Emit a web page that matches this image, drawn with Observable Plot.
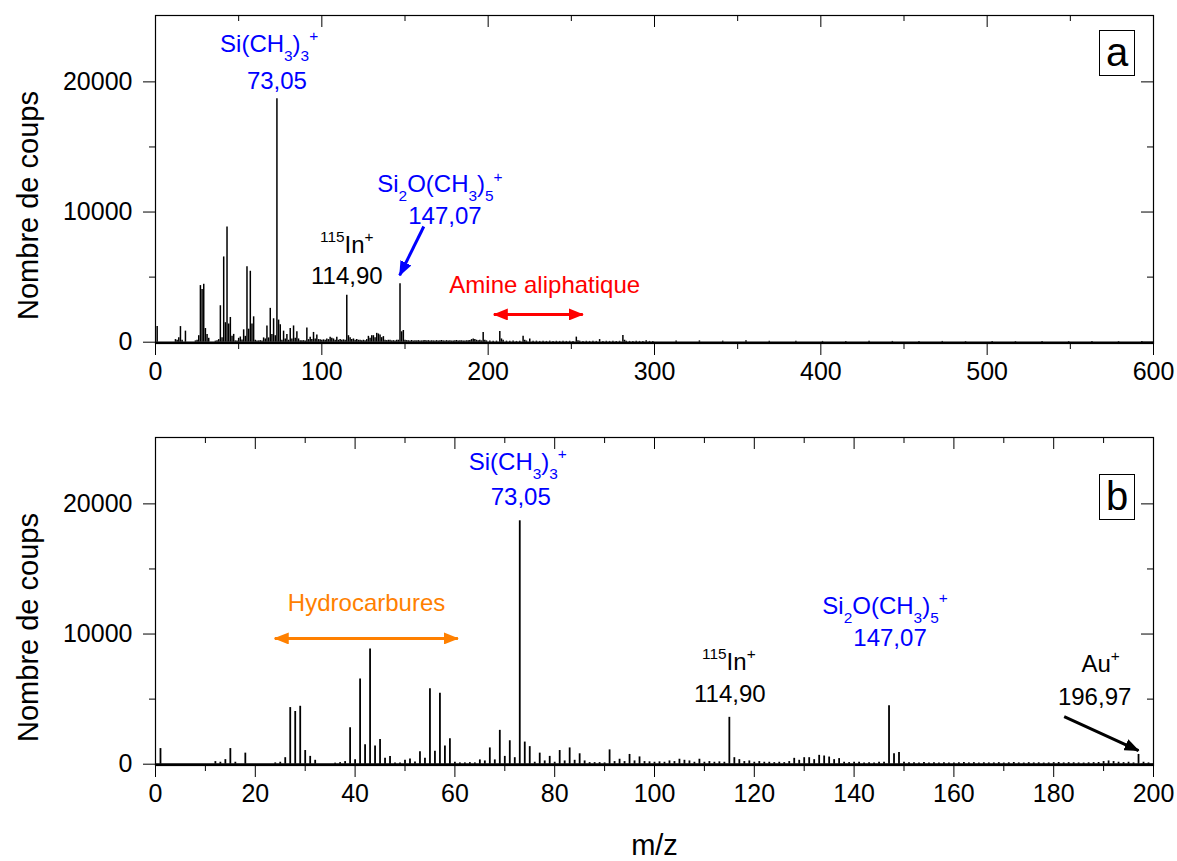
<!DOCTYPE html>
<html><head><meta charset="utf-8">
<script src="https://cdn.jsdelivr.net/npm/d3@7"></script>
<script src="https://cdn.jsdelivr.net/npm/@observablehq/plot@0.6"></script>
<style>
body{margin:0;background:#fff;}
#wrap{position:relative;width:1177px;height:861px;font-family:"Liberation Sans",Arial,sans-serif;overflow:hidden;}
.panel{position:absolute;left:0;}
.tag{position:absolute;box-sizing:border-box;border:1.3px solid #000;background:#fff;font-size:40px;text-align:center;color:#000;}
</style></head><body><div id="wrap"></div>
<script>
// ---- spectrum (m/z, counts) ----
const mzLow = [1,12,13,14,15,16,18,24,25,26,
  27,28,29,30,31,32,36,37,38,39,
  40,41,42,43,44,45,46,47,48,49,
  50,51,52,53,54,55,56,57,58,59,
  60,61,62,63,64,65,66,67,68,69,
  70,71,72,73,74,75,76,77,78,79,
  80,81,82,83,84,85,86,87,88,89,
  90,91,92,93,94,95,96,97,98,99,
  100,101,102,103,104,105,106,107,108,109,
  110,111,112,113,114,115,116,117,118,119,
  120,121,122,123,124,125,126,127,128,129,
  130,131,132,133,134,135,136,137,138,139,
  140,141,142,143,144,145,146,147,148,149];
const countsLow = [1200,200,150,350,1200,150,850,100,150,500,
  4350,4050,4450,1050,600,300,80,120,200,2800,
  350,6550,1500,8850,1400,1900,450,600,100,100,
  300,400,170,950,450,5800,1000,5450,1400,1950,
  150,100,100,120,100,330,250,1250,330,2600,
  600,1800,500,18700,1700,1350,150,850,250,600,
  150,1050,250,1250,300,800,250,120,120,120,
  100,1100,200,380,200,750,250,560,200,180,
  150,180,150,250,200,380,300,250,150,380,
  150,200,150,180,150,3600,500,350,200,250,
  150,200,150,150,120,150,120,200,450,300,
  500,500,350,680,630,550,350,430,150,120,
  150,150,100,120,100,150,150,4500,800,900];
const mzMid = [150,151,152,153,154,155,156,157,158,159,
  160,161,162,163,164,165,166,167,168,169,
  170,171,172,173,174,175,176,177,178,179,
  180,181,182,183,184,185,186,187,188,189,
  190,191,192,193,194,195,196,197,198,199];
const countsMid = [150,120,110,100,130,90,110,100,120,90,
  100,110,130,100,120,90,110,100,100,120,
  90,110,130,100,90,120,100,110,90,100,
  120,130,100,120,110,100,90,110,120,130,
  200,250,200,150,120,150,100,750,150,100];
const mzHigh = [201,203,205,207,208,209,211,213,215,217,
  219,221,222,223,225,227,229,231,233,235,
  237,239,241,243,245,247,249,251,253,254,
  255,257,259,261,263,265,267,269,271,273,
  275,277,279,281,282,283,285,287,289,291,
  293,295,297,299,313,327,341,355,369,385,
  401,415,429,443,459,473,487,503,517,533,
  549,563,579,593];
const countsHigh = [90,70,80,820,250,150,80,70,90,60,
  80,460,150,90,250,70,80,60,70,60,
  80,60,70,60,80,60,70,60,390,120,
  80,60,70,60,80,60,200,60,70,60,
  70,60,70,510,150,80,60,60,70,60,
  60,120,60,60,90,100,80,110,70,70,
  60,60,80,60,60,60,50,50,50,50,
  50,50,50,50];

// ---- axes ----
const yMajor = [0, 10000, 20000];
const yMinor = [5000, 15000];
const xMajorA = [0, 100, 200, 300, 400, 500, 600];
const xMinorA = [50, 150, 250, 350, 450, 550];
const xMajorB = [0, 20, 40, 60, 80, 100, 120, 140, 160, 180, 200];
const xMinorB = [10, 30, 50, 70, 90, 110, 130, 150, 170, 190];
const yLabel = "Nombre de coups";
const xLabel = "m/z";

// ---- annotations ----
const annA_text  = ["Si(CH_{3})_{3}^{+}", "73,05", "^{115}In^{+}", "114,90", "Si_{2}O(CH_{3})_{5}^{+}", "147,07", "Amine aliphatique"];
const annA_x     = [68.3, 73, 115, 115, 171, 174, 234];
const annA_y     = [22870, 20030, 7430, 5050, 12100, 9660, 4360];
const annA_color = ["#0000ff", "#0000ff", "#000", "#000", "#0000ff", "#0000ff", "#ff0000"];
const annB_text  = ["Si(CH_{3})_{3}^{+}", "73,05", "Hydrocarbures", "^{115}In^{+}", "114,90", "Si_{2}O(CH_{3})_{5}^{+}", "147,07", "Au^{+}", "196,97"];
const annB_x     = [72.6, 73.2, 42.3, 114.9, 115.1, 146.2, 147.2, 189.4, 188.2];
const annB_y     = [23180, 20490, 12350, 7810, 5350, 12120, 9660, 7660, 5120];
const annB_color = ["#0000ff", "#0000ff", "#ff8000", "#000", "#000", "#0000ff", "#0000ff", "#000", "#000"];

// arrows
const arrA_x1 = [161.3, 203.4], arrA_y1 = [8890, 2130], arrA_x2 = [146.8, 256.9], arrA_y2 = [5140, 2130];
const arrA_color = ["#0000ff", "#ff0000"], arrA_double = [false, true];
const arrB_x1 = [23.9, 182.1], arrB_y1 = [9660, 3660], arrB_x2 = [60.6, 197], arrB_y2 = [9660, 1050];
const arrB_color = ["#ff8000", "#000"], arrB_double = [true, false];

const spectrum = []
  .concat(mzLow.map((m, i) => ({mz: m, c: countsLow[i]})))
  .concat(mzMid.map((m, i) => ({mz: m, c: countsMid[i]})))
  .concat(mzHigh.map((m, i) => ({mz: m, c: countsHigh[i]})));

const NS = "http://www.w3.org/2000/svg";
function triMarker(color) {
  const m = document.createElementNS(NS, "marker");
  m.setAttribute("viewBox", "0 -6 15 12");
  m.setAttribute("refX", "14");
  m.setAttribute("refY", "0");
  m.setAttribute("markerUnits", "userSpaceOnUse");
  m.setAttribute("markerWidth", "15");
  m.setAttribute("markerHeight", "12");
  m.setAttribute("orient", "auto-start-reverse");
  const p = document.createElementNS(NS, "path");
  p.setAttribute("d", "M0,-6L15,0L0,6Z");
  p.setAttribute("fill", color);
  p.setAttribute("stroke", "none");
  m.appendChild(p);
  return m;
}

const W = 1177, H1 = 422, H2 = 439;
const mL = 155, mR = 24, mT = 15;
const plotH = 328, plotW = W - mL - mR;
const FONT = "'Liberation Sans', Arial, sans-serif";

function panel({height, xDomain, xMajor, xMinor, ann, arr, peakWidth, bottomExtra}) {
  const data = spectrum.filter(d => d.mz >= xDomain[0] && d.mz <= xDomain[1]);
  const marks = [
    Plot.ruleY([0], {stroke: "#000", strokeWidth: peakWidth}),
    Plot.ruleX(data, {x: "mz", y: "c", stroke: "#000", strokeWidth: peakWidth}),
    Plot.frame({stroke: "#000", strokeWidth: 1.2}),
    Plot.axisY(yMajor, {tickSize: 12, tickPadding: 11, fontSize: 25, label: null, tickFormat: d => String(d)}),
    Plot.axisY(yMinor, {tickSize: 6, label: null, tickFormat: () => ""}),
    Plot.axisX(xMajor, {tickSize: 12, tickPadding: 7, fontSize: 25, label: null, tickFormat: d => String(d)}),
    Plot.axisX(xMinor, {tickSize: 6, label: null, tickFormat: () => ""}),
    Plot.ruleX(xMajor, {x: d => d, insetBottom: plotH - 12, stroke: "#000"}),
    Plot.ruleX(xMinor, {x: d => d, insetBottom: plotH - 6, stroke: "#000"}),
    Plot.ruleY(yMajor, {y: d => d, insetLeft: plotW - 12, stroke: "#000"}),
    Plot.ruleY(yMinor, {y: d => d, insetLeft: plotW - 6, stroke: "#000"}),
    Plot.text([yLabel], {frameAnchor: "left", textAnchor: "middle", lineAnchor: "middle", rotate: -90, dx: -127, dy: 26, fontSize: 29, text: d => d, fill: "#000"}),
  ];
  ann.text.forEach((t, i) => {
    marks.push(Plot.text([{x: ann.x[i], y: ann.y[i], t}], {x: "x", y: "y", text: "t", fill: ann.color[i], fontSize: 24}));
  });
  arr.x1.forEach((_, i) => {
    const mk = () => triMarker(arr.color[i]);
    marks.push(Plot.link([{x1: arr.x1[i], y1: arr.y1[i], x2: arr.x2[i], y2: arr.y2[i]}],
      {x1: "x1", y1: "y1", x2: "x2", y2: "y2", stroke: arr.color[i], strokeWidth: 3,
       markerEnd: mk, markerStart: arr.double[i] ? mk : null}));
  });
  if (bottomExtra) marks.push(bottomExtra);
  const svg = Plot.plot({
    width: W, height,
    marginLeft: mL, marginRight: mR, marginTop: mT, marginBottom: height - mT - plotH,
    style: {fontFamily: FONT, background: "#fff", color: "#000", overflow: "visible"},
    x: {domain: xDomain, axis: null},
    y: {domain: [-100, 25100], axis: null},
    marks
  });
  richify(svg);
  return svg;
}

function richify(svg) {
  svg.querySelectorAll("text").forEach(t => {
    const s = t.textContent;
    if (!/[_^]\{/.test(s)) return;
    const fs = 24;
    while (t.firstChild) t.removeChild(t.firstChild);
    const re = /([_^])\{([^}]*)\}/g;
    let last = 0, m, cur = 0;
    const add = (str, kind) => {
      if (!str) return;
      const ts = document.createElementNS(NS, "tspan");
      const target = kind === "_" ? fs * 0.36 : kind === "^" ? -fs * 0.45 : 0;
      const dy = target - cur;
      if (dy) ts.setAttribute("dy", dy.toFixed(2));
      cur = target;
      if (kind) ts.setAttribute("font-size", (fs * 0.64).toFixed(1));
      ts.textContent = str;
      t.appendChild(ts);
    };
    while ((m = re.exec(s))) {
      add(s.slice(last, m.index), null);
      add(m[2], m[1]);
      last = re.lastIndex;
    }
    add(s.slice(last), null);
  });
}

const wrap = document.getElementById("wrap");
const a = panel({
  height: H1, xDomain: [0, 600], xMajor: xMajorA, xMinor: xMinorA,
  ann: {text: annA_text, x: annA_x, y: annA_y, color: annA_color},
  arr: {x1: arrA_x1, y1: arrA_y1, x2: arrA_x2, y2: arrA_y2, color: arrA_color, double: arrA_double},
  peakWidth: 1.5
});
a.classList.add("panel"); a.style.top = "0px";
wrap.appendChild(a);
const b = panel({
  height: H2, xDomain: [0, 200], xMajor: xMajorB, xMinor: xMinorB,
  ann: {text: annB_text, x: annB_x, y: annB_y, color: annB_color},
  arr: {x1: arrB_x1, y1: arrB_y1, x2: arrB_x2, y2: arrB_y2, color: arrB_color, double: arrB_double},
  peakWidth: 1.8,
  bottomExtra: Plot.text([xLabel], {frameAnchor: "bottom", lineAnchor: "middle", dy: 80, fontSize: 29, text: d => d, fill: "#000"})
});
b.classList.add("panel"); b.style.top = H1 + "px";
wrap.appendChild(b);

// panel tags
[["a", 30], ["b", 474]].forEach(([s, top]) => {
  const d = document.createElement("div");
  d.className = "tag";
  d.textContent = s;
  d.style.left = "1099px"; d.style.top = top + "px";
  d.style.width = "36px"; d.style.height = "46px"; d.style.lineHeight = "42px";
  wrap.appendChild(d);
});
</script></body></html>
